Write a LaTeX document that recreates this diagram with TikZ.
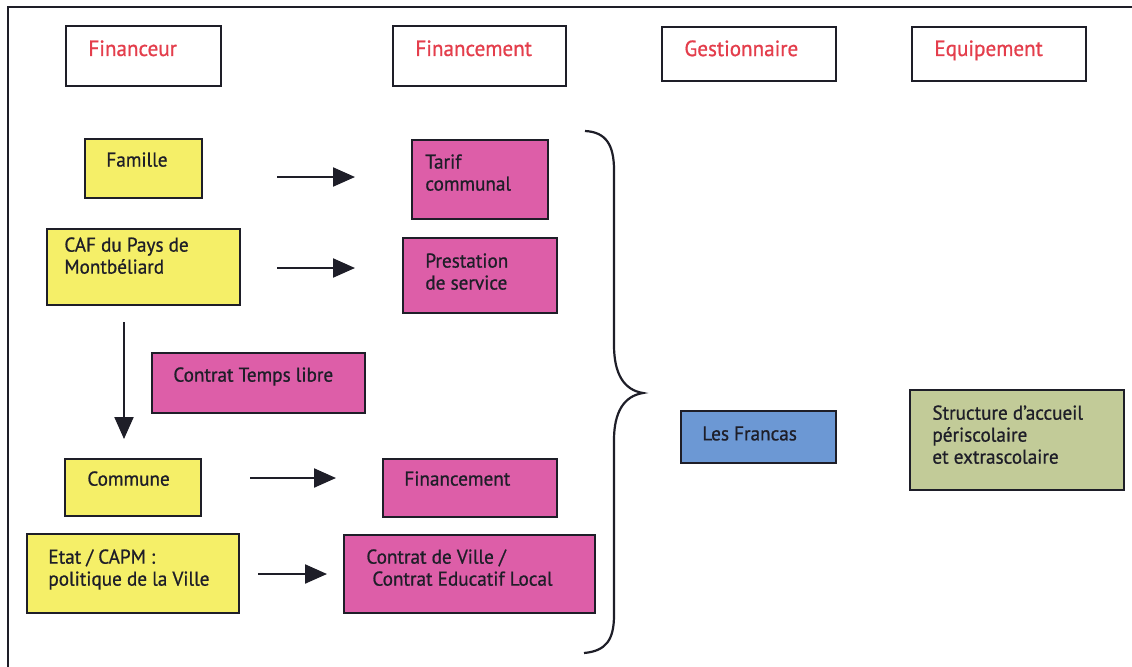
\documentclass[tikz,border=0pt]{standalone}
\usepackage{fontspec}
\setmainfont{PT Sans}[FakeStretch=0.96, FakeBold=0.8]
\usetikzlibrary{arrows.meta}

\definecolor{jaune}{RGB}{245,239,104}
\definecolor{rose}{RGB}{221,94,168}
\definecolor{bleu}{RGB}{108,152,212}
\definecolor{vert}{RGB}{194,203,152}
\definecolor{rouge}{RGB}{228,62,76}
\definecolor{encre}{RGB}{30,30,40}

\tikzset{
    box/.style={draw=encre, line width=1pt, inner sep=0pt},
    hbox/.style={box, fill=white},
    ybox/.style={box, fill=jaune},
    pbox/.style={box, fill=rose},
    bbox/.style={box, fill=bleu},
    gbox/.style={box, fill=vert},
    txt/.style={anchor=north west, inner sep=0pt, align=left, text=encre,
                font=\fontsize{10}{11}\selectfont},
    htxt/.style={txt, text=rouge, font=\fontsize{11}{13}\selectfont},
    arr/.style={draw=encre, line width=1.1pt, -{Triangle[length=11pt,width=9.5pt]}}
}

\begin{document}
\begin{tikzpicture}[x=0.5pt, y=-0.5pt]
    \useasboundingbox[fill=white] (0,0) rectangle (1132,666);
    % cadre
    \draw[draw=encre, line width=1pt] (1140,7) -| (8,680);

    % en-tetes
    \node[hbox, minimum width=77.5pt, minimum height=30pt] (hfin) at (143.5,56) {};
    \node[hbox, minimum width=86.5pt, minimum height=30pt] (hfmt) at (479.5,56) {};
    \node[hbox, minimum width=87pt, minimum height=27pt] (hges) at (749,54) {};
    \node[hbox, minimum width=87pt, minimum height=27pt] (hequ) at (999,54) {};
    \node[htxt] (hfin-t) at (88,40) {Financeur};
    \node[htxt] (hfmt-t) at (415,40) {Financement};
    \node[htxt] (hges-t) at (684,40) {Gestionnaire};
    \node[htxt] (hequ-t) at (934,40) {Equipement};

    % financeurs
    \node[ybox, minimum width=58.5pt, minimum height=29.5pt] (famille) at (143.5,168.5) {};
    \node[ybox, minimum width=96.5pt, minimum height=38pt] (caf) at (143.5,267) {};
    \node[ybox, minimum width=68pt, minimum height=28.5pt] (commune) at (133,487.5) {};
    \node[ybox, minimum width=106pt, minimum height=39.5pt] (etat) at (133,573.5) {};
    \node[txt] (famille-t) at (106,152) {Famille};
    \node[txt] (caf-t) at (64,237) {CAF du Pays de\\Montbéliard};
    \node[txt] (commune-t) at (87,471) {Commune};
    \node[txt] (etat-t) at (48,549) {Etat / CAPM :\\politique de la Ville};

    % financements
    \node[pbox, minimum width=68pt, minimum height=39.5pt] (tarif) at (480,179.5) {};
    \node[pbox, minimum width=77pt, minimum height=37.5pt] (prest) at (480,275.5) {};
    \node[pbox, minimum width=106.5pt, minimum height=30pt] (ctl) at (258.5,383) {};
    \node[pbox, minimum width=87pt, minimum height=29pt] (fin) at (470,488) {};
    \node[pbox, minimum width=125.5pt, minimum height=39pt] (cdv) at (469.5,574) {};
    \node[txt] (tarif-t) at (425,154) {Tarif\\communal};
    \node[txt] (prest-t) at (425,253) {Prestation\\de service};
    \node[txt] (ctl-t) at (173,367) {Contrat Temps libre};
    \node[txt] (fin-t) at (404,471) {Financement};
    \node[txt] (cdv-t) at (366,549) {Contrat de Ville /\\\hspace*{3pt}Contrat Educatif Local};

    % gestionnaire et equipement
    \node[bbox, minimum width=77.5pt, minimum height=26pt] (francas) at (758.5,437) {};
    \node[gbox, minimum width=107pt, minimum height=50pt] (structure) at (1017,440) {};
    \node[txt] (francas-t) at (702,426) {Les Francas};
    \node[txt] (structure-t) at (932,405) {Structure d'accueil\\périscolaire\\et extrascolaire};

    % fleches
    \coordinate (a1) at (277,177);  \coordinate (b1) at (355,177);
    \coordinate (a2) at (277,268);  \coordinate (b2) at (355,268);
    \coordinate (a3) at (250,478);  \coordinate (b3) at (336,478);
    \coordinate (a4) at (258,574);  \coordinate (b4) at (327,574);
    \coordinate (a5) at (124,322);  \coordinate (b5) at (124,439);
    \foreach \i in {1,...,5} {
        \draw[arr] (a\i) -- (b\i);
    }

    % accolade
    \draw[draw=encre, line width=1.1pt]
        (585,131) .. controls (606,132) and (614,145) .. (614,170)
        -- (614,345) .. controls (614,374) and (624,390) .. (643,393)
        .. controls (624,396) and (614,412) .. (614,440)
        -- (614,615) .. controls (614,640) and (606,651) .. (584,653);
\end{tikzpicture}
\end{document}
